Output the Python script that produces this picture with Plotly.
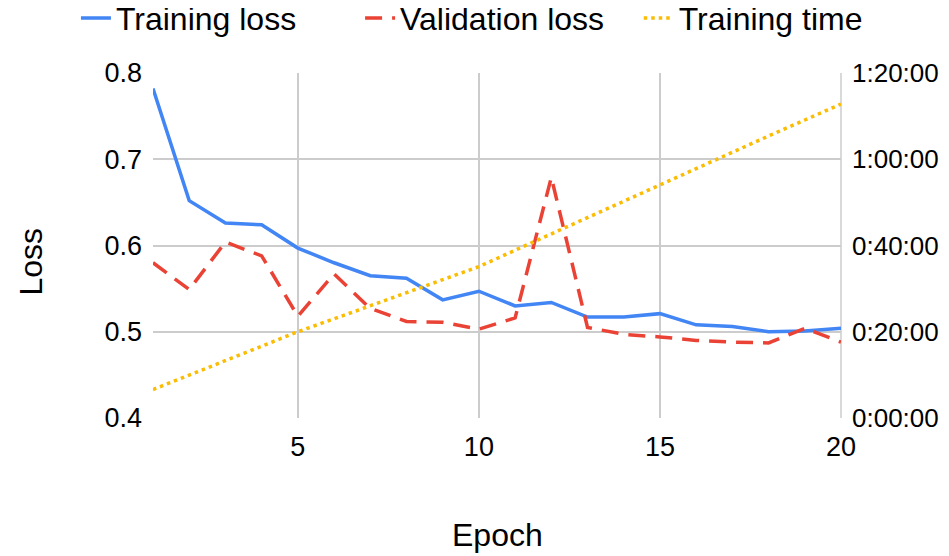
import plotly.graph_objects as go

epochs = list(range(1, 21))

training_loss = [0.782, 0.652, 0.626, 0.624, 0.597, 0.580, 0.565, 0.562, 0.537, 0.547,
                 0.530, 0.534, 0.517, 0.517, 0.521, 0.508, 0.506, 0.500, 0.501, 0.504]

validation_loss = [0.580, 0.549, 0.604, 0.588, 0.518, 0.567, 0.527, 0.512, 0.511, 0.503,
                   0.516, 0.679, 0.505, 0.497, 0.494, 0.490, 0.488, 0.487, 0.504, 0.488]

# cumulative training time, minutes
training_time = [6.6, 10.0, 13.3, 16.6, 20.0, 23.0, 26.0, 29.0, 32.1, 35.1,
                 38.9, 42.7, 46.6, 50.4, 54.2, 57.9, 61.6, 65.4, 69.1, 72.8]

time_tickvals = [0, 20, 40, 60, 80]
time_ticktext = ["0:00:00", "0:20:00", "0:40:00", "1:00:00", "1:20:00"]

FONT = "Liberation Sans, Arial, sans-serif"
GRID = "#cccccc"

fig = go.Figure()

fig.add_trace(go.Scatter(
    x=epochs, y=training_loss, mode="lines", name="Training loss", legend="legend",
    line=dict(color="#4285F4", width=3.5),
))
fig.add_trace(go.Scatter(
    x=epochs, y=validation_loss, mode="lines", name="Validation loss", legend="legend2",
    line=dict(color="#EA4335", width=3.5, dash="17px,10px"),
))
fig.add_trace(go.Scatter(
    x=epochs, y=training_time, mode="lines", name="Training time", yaxis="y2",
    legend="legend3", line=dict(color="#FBBC04", width=3.5, dash="3.5px,4px"),
))


def legend_box(x):
    # one legend per series so the entries can be spaced like the reference
    return dict(
        orientation="h", x=x, xanchor="left", xref="paper",
        y=1.159, yanchor="middle", yref="paper", font=dict(size=32),
        itemwidth=30,
    )


# page body has an 8px margin, so the figure is a little smaller than the window
fig.update_layout(
    width=941, height=548,
    margin=dict(l=145, r=108, t=65, b=138, autoexpand=False),
    paper_bgcolor="white", plot_bgcolor="white",
    font=dict(family=FONT, color="#000000", size=27),
    showlegend=True,
    legend=legend_box(-0.112),
    legend2=legend_box(0.301),
    legend3=legend_box(0.706),
    xaxis=dict(
        range=[1, 20], tick0=0, dtick=5, showgrid=True, gridcolor=GRID, gridwidth=1.5,
        zeroline=False, showline=False, ticks="", ticklabelstandoff=10,
        tickfont=dict(size=27),
    ),
    yaxis=dict(
        range=[0.4, 0.8], dtick=0.1, tickformat=".1f", showgrid=True, gridcolor=GRID,
        gridwidth=1.5, zeroline=False, showline=False, ticks="", ticklabelstandoff=10,
        tickfont=dict(size=27),
    ),
    yaxis2=dict(
        overlaying="y", side="right", range=[0, 80], tickvals=time_tickvals,
        ticktext=time_ticktext, showgrid=False, zeroline=False, showline=False,
        ticks="", ticklabelstandoff=10, tickfont=dict(size=26), automargin=False,
    ),
    annotations=[
        dict(text="Epoch", x=0.5, y=0, xref="paper", yref="paper", showarrow=False,
             xanchor="center", yanchor="middle", yshift=-117, font=dict(size=32)),
        dict(text="Loss", x=0, y=0.5, xref="paper", yref="paper", showarrow=False,
             xanchor="center", yanchor="middle", xshift=-123, yshift=-16,
             textangle=-90, font=dict(size=32)),
    ],
)

# vertical border on the right edge, like the reference
fig.add_shape(type="line", xref="paper", yref="paper", x0=1, x1=1, y0=0, y1=1,
              line=dict(color=GRID, width=1.5), layer="below")

fig.write_html("out.html")
